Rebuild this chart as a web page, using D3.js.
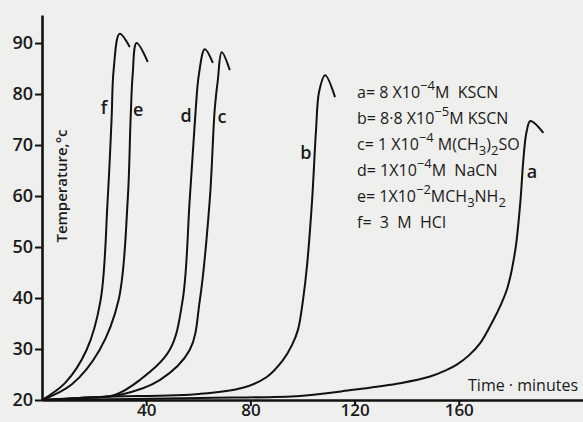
<!DOCTYPE html>
<html>
<head>
<meta charset="utf-8">
<script src="https://cdn.jsdelivr.net/npm/d3@7"></script>
<style>
  body { margin: 0; background: #efefed; }
  svg { display: block; }
  text { font-family: "Open Sans", sans-serif; fill: #1a1a1a; white-space: pre; }
</style>
</head>
<body>
<svg width="583" height="422"></svg>
<script>
// curve data: time (minutes) and temperature (°C)
const timeA = [0, 60.6, 99, 119.4, 137.5, 149, 155, 159.4, 164, 168.3, 173.3, 176, 178.7, 181.7, 183.7, 184.8, 186, 187.5, 192.5];
const tempA = [20, 20.4, 20.8, 22, 23.3, 24.6, 25.8, 27, 28.8, 31.2, 35.7, 38.5, 42, 49.4, 59.2, 67.1, 72.5, 74.7, 72.4];

const timeB = [0, 22, 60.6, 77.1, 86.3, 92.5, 96, 98.3, 100.2, 101.7, 103.7, 105.2, 106.4, 108.7, 112.5];
const tempB = [20, 20.6, 21.2, 22.4, 24.5, 27.8, 30.8, 33.8, 39.6, 46.1, 59.2, 72.9, 80.5, 83.7, 79.4];

const timeC = [0, 14.4, 29.8, 45.2, 56.7, 60.6, 64.4, 66.3, 67.5, 69, 72.1];
const tempC = [20, 20.4, 21, 23.9, 29.8, 39.6, 59.2, 76.9, 82.7, 88.2, 84.7];

const timeD = [0, 14.4, 27.9, 37.5, 49, 54, 56.7, 59, 60.2, 62.5, 65.6];
const tempD = [20, 20.4, 21, 23.9, 29.8, 39.6, 59.2, 76.9, 83.7, 88.8, 86.1];

const timeE = [0, 11.5, 22.1, 29.4, 32.9, 34, 34.8, 36.3, 40.6];
const tempE = [20, 23.1, 29.8, 39.6, 59.2, 74.9, 83.7, 90, 86.3];

const timeF = [0, 8.8, 17.1, 22.5, 25.2, 26.7, 27.5, 29.8, 33.7];
const tempF = [20, 23.3, 29.8, 39.6, 59.2, 74.9, 84.7, 91.8, 89.2];

const curveKeys = ['a', 'b', 'c', 'd', 'e', 'f'];
const curveTimes = [timeA, timeB, timeC, timeD, timeE, timeF];
const curveTemps = [tempA, tempB, tempC, tempD, tempE, tempF];
// where each curve letter sits (time, temperature of the baseline)
const labelTimes = [188.1, 101.3, 69.1, 55.3, 36.9, 23.8];
const labelTemps = [63.5, 67.3, 74.3, 74.5, 75.7, 76.1];

const yTicks = [20, 30, 40, 50, 60, 70, 80, 90];
const xTicks = [40, 80, 120, 160];

// legend lines, ^{..} = superscript, _{..} = subscript
const legendLines = [
    'a= 8 X10^{−4}M  KSCN',
    'b= 8·8 X10^{−5}M KSCN',
    'c= 1 X10^{−4} M(CH_{3})_{2}SO',
    'd= 1X10^{−4}M  NaCN',
    'e= 1X10^{−2}MCH_{3}NH_{2}',
    'f=  3  M  HCl'
];

const svg = d3.select('svg');

const x = d3.scaleLinear().domain([0, 207.7]).range([42, 583]);
const y = d3.scaleLinear().domain([20, 95.5]).range([400, 15]);

// axes
const yAxisG = svg.append('g')
    .attr('transform', 'translate(42,0)')
    .call(d3.axisLeft(y).tickValues(yTicks).tickSize(7).tickSizeOuter(0).tickPadding(2));

const xAxisG = svg.append('g')
    .attr('transform', 'translate(0,400)')
    .call(d3.axisBottom(x).tickValues(xTicks).tickSize(6).tickSizeOuter(0).tickPadding(0));

[yAxisG, xAxisG].forEach(g => {
    g.select('.domain').attr('stroke', '#111').attr('stroke-width', 2.6);
    g.selectAll('.tick line').attr('stroke', '#111').attr('stroke-width', 2);
    g.selectAll('.tick text')
        .attr('fill', '#1a1a1a')
        .style('font-size', '18px')
        .style('font-weight', 600)
        .style('font-family', '"Open Sans", sans-serif');
});
xAxisG.selectAll('.tick text').attr('dy', null).attr('y', 16).style('font-size', '17px');

svg.append('text')
    .attr('transform', 'translate(67,186) rotate(-90)')
    .attr('text-anchor', 'middle')
    .style('font-size', '15px')
    .style('font-weight', 600)
    .text('Temperature,°c');

svg.append('text')
    .attr('x', 578)
    .attr('y', 391)
    .attr('text-anchor', 'end')
    .style('font-size', '16px')
    .style('font-weight', 500)
    .text('Time · minutes');

// curves
const line = d3.line()
    .x(d => x(d[0]))
    .y(d => y(d[1]))
    .curve(d3.curveCatmullRom.alpha(0.5));

svg.append('g')
    .selectAll('path')
    .data(curveKeys.map((k, i) => curveTimes[i].map((t, j) => [t, curveTemps[i][j]])))
    .join('path')
    .attr('d', line)
    .attr('fill', 'none')
    .attr('stroke', '#111')
    .attr('stroke-width', 2)
    .attr('stroke-linejoin', 'round');

svg.append('g')
    .selectAll('text')
    .data(curveKeys)
    .join('text')
    .attr('x', (d, i) => x(labelTimes[i]))
    .attr('y', (d, i) => y(labelTemps[i]))
    .attr('text-anchor', 'middle')
    .style('font-size', '18px')
    .style('font-weight', 600)
    .text(d => d);

// legend
const shift = { n: 0, sup: -8, sub: 5 };
const legendG = svg.append('g').attr('transform', 'translate(357,98)');
legendLines.forEach((str, i) => {
    const t = legendG.append('text')
        .attr('y', i * 26)
        .style('font-size', '16px')
        .style('font-weight', 500);
    let cur = 0;
    str.split(/(\^\{[^}]*\}|_\{[^}]*\})/).forEach(p => {
        if (!p) return;
        let kind = 'n', txt = p;
        if (p.startsWith('^{')) { kind = 'sup'; txt = p.slice(2, -1); }
        if (p.startsWith('_{')) { kind = 'sub'; txt = p.slice(2, -1); }
        t.append('tspan')
            .attr('dy', shift[kind] - cur)
            .style('font-size', kind === 'n' ? '16px' : '13px')
            .text(txt);
        cur = shift[kind];
    });
});
</script>
</body>
</html>
